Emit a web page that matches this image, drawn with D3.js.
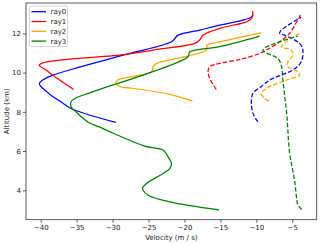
<!DOCTYPE html>
<html>
<head>
<meta charset="utf-8">
<script src="https://cdnjs.cloudflare.com/ajax/libs/d3/7.8.5/d3.min.js"></script>
<style>
  body { margin: 0; background: #fff; }
  svg text { font-family: "DejaVu Sans", sans-serif; fill: #222; }
</style>
</head>
<body>
<svg id="chart" width="320" height="244"></svg>
<script>
// Data: [velocity (m/s), altitude (km)]
var rayNames = ["ray0", "ray1", "ray2", "ray3"];
var rayColors = ["#0000ff", "#ff0000", "#ffa500", "#008000"];

var ray0Solid = [[-29.55, 7.46], [-35.79, 8.17], [-37.18, 8.51], [-38.57, 8.85], [-39.96, 9.28], [-40.19, 9.45],
    [-39.72, 9.62], [-38.33, 9.87], [-28.15, 10.93], [-21.81, 11.57], [-20.89, 11.91], [-17.88, 12.17],
    [-15.1, 12.42], [-11.86, 12.68], [-10.69, 12.83], [-10.47, 12.95]];
var ray1Solid = [[-35.42, 9.14], [-38.33, 9.87], [-39.26, 10.13], [-40.19, 10.38], [-39.72, 10.5], [-28.15, 10.93],
    [-24.36, 11.15], [-18.57, 11.49], [-17.88, 11.66], [-17.42, 11.91], [-15.1, 12.26], [-11.39, 12.59],
    [-10.69, 12.77], [-10.47, 13.05], [-10.58, 13.14]];
var ray2Solid = [[-18.89, 8.55], [-22.04, 8.89], [-27.6, 9.22], [-28.99, 9.28], [-29.54, 9.46], [-29.4, 9.59],
    [-28.99, 9.67], [-26.9, 9.82], [-24.58, 10.04], [-24.36, 10.3], [-23.89, 10.47], [-16.94, 11.15],
    [-16.86, 11.4], [-15.1, 11.57], [-9.31, 12.03]];
var ray3Solid = [[-15.19, 3.0], [-22.04, 3.41], [-25.06, 3.75], [-25.75, 4.0], [-25.83, 4.12], [-25.28, 4.35],
    [-22.97, 4.86], [-22.04, 5.11], [-21.81, 5.37], [-22.28, 5.7], [-22.97, 6.05], [-25.51, 6.25],
    [-29.92, 6.91], [-31.86, 7.23], [-33.39, 7.47], [-35.1, 8.0], [-35.79, 8.26], [-35.79, 8.51],
    [-35.1, 8.71], [-32.78, 9.02], [-19.5, 10.81], [-19.26, 11.06], [-15.1, 11.32], [-9.54, 11.86]];

var ray0Dashed = [[-9.78, 7.49], [-10.47, 7.92], [-10.69, 8.51], [-10.47, 8.94], [-9.26, 9.31], [-8.15, 9.62],
    [-6.76, 9.85], [-4.92, 10.13], [-3.75, 10.55], [-3.53, 11.15], [-3.99, 11.49], [-6.07, 11.91],
    [-6.76, 12.0], [-6.53, 12.17], [-3.75, 12.82]];
var ray1Dashed = [[-15.58, 9.14], [-16.49, 9.7], [-16.72, 10.04], [-16.49, 10.3], [-15.1, 10.47], [-11.86, 10.71],
    [-9.54, 10.98], [-8.61, 11.15], [-6.76, 11.57], [-5.37, 12.0], [-4.4, 12.58], [-3.99, 12.83], [-3.89, 13.04]];
var ray2Dashed = [[-8.25, 8.55], [-8.85, 8.68], [-9.31, 8.94], [-8.61, 9.19], [-5.83, 9.62], [-3.99, 9.87],
    [-4.22, 10.04], [-5.61, 10.3], [-5.61, 10.55], [-4.92, 10.89], [-5.14, 11.15], [-6.53, 11.32], [-3.99, 12.0]];
var ray3Dashed = [[-3.67, 3.02], [-4.22, 3.24], [-4.36, 3.49], [-4.68, 4.51], [-5.38, 5.94], [-5.75, 7.83],
    [-6.07, 8.85], [-6.3, 9.62], [-6.53, 10.38], [-7.0, 10.72], [-9.08, 11.15], [-4.26, 11.86]];

var xTicks = [-40, -35, -30, -25, -20, -15, -10, -5];
var yTicks = [4, 6, 8, 10, 12];

var solidSeries = [ray0Solid, ray1Solid, ray2Solid, ray3Solid];
var dashedSeries = [ray0Dashed, ray1Dashed, ray2Dashed, ray3Dashed];

var svg = d3.select("#chart");
var plot = { left: 26, right: 316.7, top: 3, bottom: 219.7 };

var x = d3.scaleLinear().domain([-42.05, -1.6]).range([plot.left, plot.right]);
var y = d3.scaleLinear().domain([2.5, 13.55]).range([plot.bottom, plot.top]);

var line = d3.line()
    .x(function(d) { return x(d[0]); })
    .y(function(d) { return y(d[1]); })
    .curve(d3.curveCatmullRom.alpha(0.5));

// Lines
solidSeries.forEach(function(s, i) {
    svg.append("path")
        .attr("d", line(s))
        .attr("fill", "none")
        .attr("stroke", rayColors[i])
        .attr("stroke-width", 1.25)
        .attr("stroke-linejoin", "round");
});
dashedSeries.forEach(function(s, i) {
    svg.append("path")
        .attr("d", line(s))
        .attr("fill", "none")
        .attr("stroke", rayColors[i])
        .attr("stroke-width", 1.25)
        .attr("stroke-dasharray", "4.5,2");
});

// Frame
svg.append("rect")
    .attr("x", plot.left)
    .attr("y", plot.top)
    .attr("width", plot.right - plot.left)
    .attr("height", plot.bottom - plot.top)
    .attr("fill", "none")
    .attr("stroke", "#333")
    .attr("stroke-width", 0.8);

// Axes
var fmt = function(d) { return String(d).replace("-", "\u2212"); };

var xAxis = svg.append("g")
    .attr("transform", "translate(0," + plot.bottom + ")")
    .call(d3.axisBottom(x).tickValues(xTicks).tickFormat(fmt).tickSize(3).tickPadding(2));
var yAxis = svg.append("g")
    .attr("transform", "translate(" + plot.left + ",0)")
    .call(d3.axisLeft(y).tickValues(yTicks).tickFormat(fmt).tickSize(3).tickPadding(2));

[xAxis, yAxis].forEach(function(a) {
    a.select(".domain").remove();
    a.selectAll(".tick line").attr("stroke", "#333").attr("stroke-width", 0.8);
    a.selectAll(".tick text")
        .style("font-family", "DejaVu Sans, sans-serif")
        .style("font-size", "7px")
        .attr("fill", "#222");
});

// Axis labels
svg.append("text")
    .attr("x", (plot.left + plot.right) / 2)
    .attr("y", 240)
    .attr("text-anchor", "middle")
    .style("font-size", "7px")
    .text("Velocity (m / s)");

svg.append("text")
    .attr("transform", "translate(9," + ((plot.top + plot.bottom) / 2) + ") rotate(-90)")
    .attr("text-anchor", "middle")
    .style("font-size", "7px")
    .text("Altitude (km)");

// Legend
var legend = svg.append("g").attr("transform", "translate(29.5,6)");
legend.append("rect")
    .attr("width", 38)
    .attr("height", 40.5)
    .attr("rx", 1.5)
    .attr("fill", "#fff")
    .attr("fill-opacity", 0.8)
    .attr("stroke", "#ccc")
    .attr("stroke-width", 0.8);

rayNames.forEach(function(name, i) {
    var row = legend.append("g").attr("transform", "translate(0," + (5.7 + i * 9.8) + ")");
    row.append("line")
        .attr("x1", 2)
        .attr("x2", 16.5)
        .attr("stroke", rayColors[i])
        .attr("stroke-width", 1.3);
    row.append("text")
        .attr("x", 21)
        .attr("y", 2.5)
        .style("font-size", "7px")
        .text(name);
});
</script>
</body>
</html>
